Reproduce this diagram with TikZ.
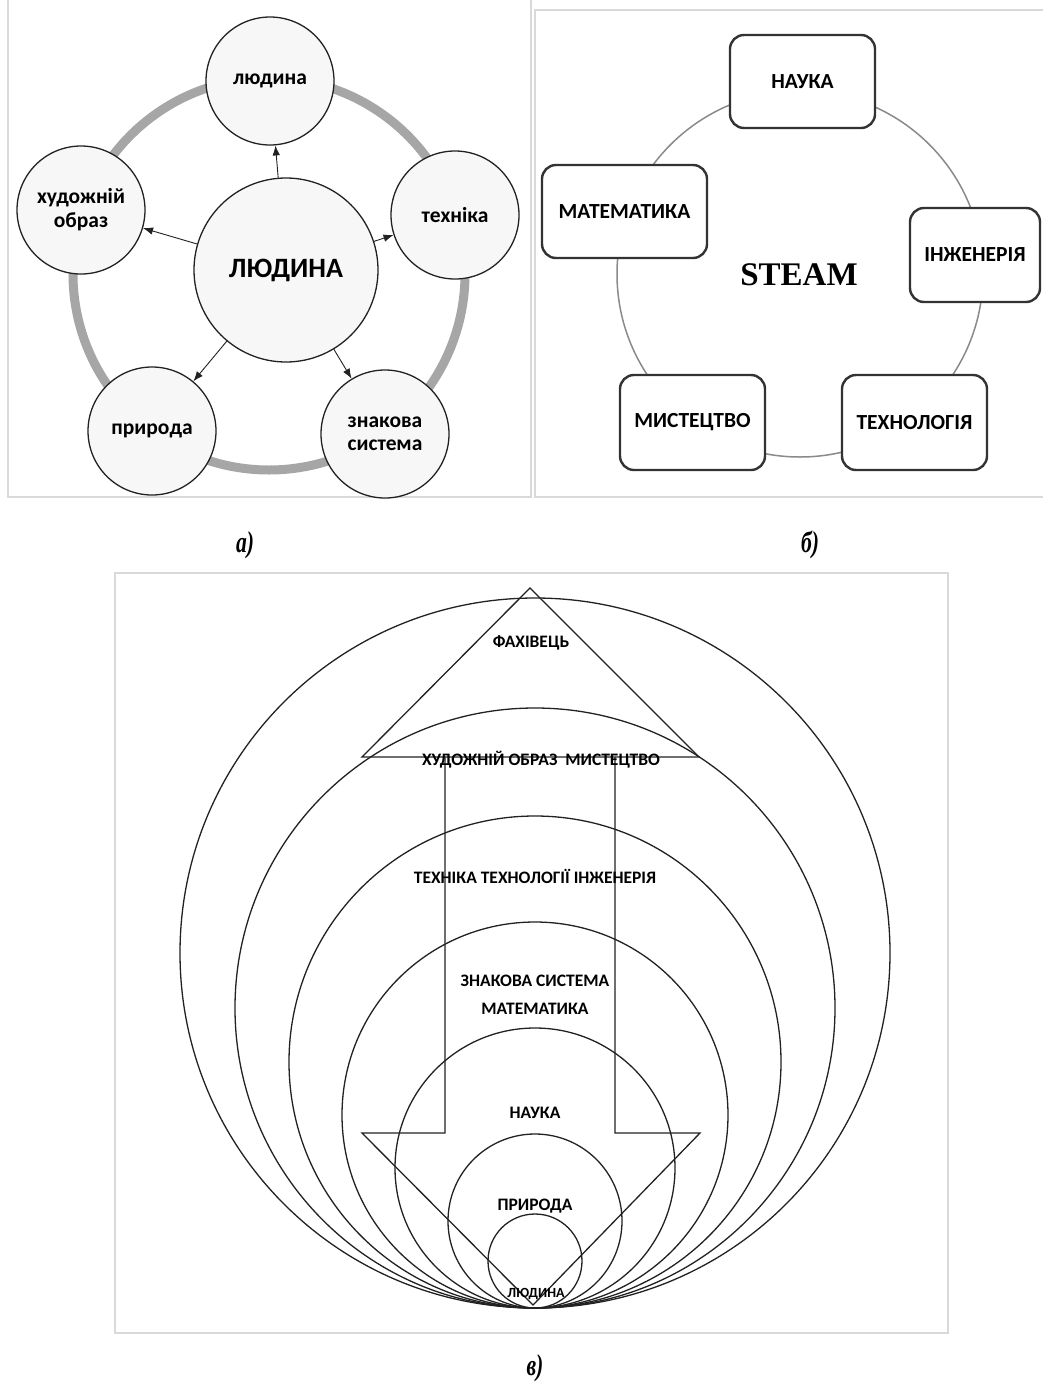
\documentclass[tikz,border=0pt]{standalone}
\usepackage{fontspec}
\setmainfont{Carlito}
\newfontfamily\serifb{Liberation Serif}
\usetikzlibrary{arrows.meta}
\definecolor{framec}{HTML}{D9D9D9}
\definecolor{ringc}{HTML}{A6A6A6}
\definecolor{fillc}{HTML}{F7F7F7}
\definecolor{linec}{HTML}{222222}
\definecolor{boxline}{HTML}{333333}
\definecolor{circb}{HTML}{8A8A8A}
\tikzset{
  frameline/.style={draw=framec, line width=1.2pt},
  smallc/.style={circle, draw=linec, fill=fillc, line width=1.3pt, minimum size=128pt, inner sep=0pt, align=center,
    font=\fontsize{21.5}{25}\selectfont\bfseries},
  bigc/.style={circle, draw=linec, fill=fillc, line width=1.3pt, minimum size=184pt, inner sep=0pt,
    font=\fontsize{28}{32}\selectfont\bfseries},
  arr/.style={-{Latex[length=10pt,width=7.5pt]}, line width=0.9pt, draw=linec},
  boxb/.style={rectangle, rounded corners=14pt, draw=boxline, fill=white, line width=2.4pt, inner sep=0pt,
    font=\fontsize{21.5}{24}\selectfont\bfseries},
  cline/.style={draw=linec, line width=1.3pt},
  ctext/.style={font=\fontsize{17.5}{20}\selectfont\bfseries, inner sep=0pt, align=center},
  caption/.style={font=\serifb\fontsize{30}{32}\selectfont\bfseries\itshape, inner sep=0pt}
}
\begin{document}
\begin{tikzpicture}[x=1pt,y=-1pt]
\useasboundingbox (0,0) rectangle (1043,1387);
\fill[white] (0,0) rectangle (1043,1387);

% ---------- panel a ----------
\draw[frameline] (8,0) -- (8,497) -- (531,497) -- (531,0);
\draw[ringc, line width=9pt] (269,274) circle[radius=196pt];
\node[bigc] (c) at (286,270) {ЛЮДИНА};
\node[smallc] (n1) at (270,81) {людина};
\node[smallc] (n2) at (455,215) {техніка};
\node[smallc] (n3) at (385,434) {знакова\\[-2pt]система};
\node[smallc] (n4) at (152,431) {природа};
\node[smallc] (n5) at (81,210) {художній\\[-1pt]образ};
\draw[arr] (c) -- (n1);
\draw[arr] (c) -- (n2);
\draw[arr] (c) -- (n3);
\draw[arr] (c) -- (n4);
\draw[arr] (c) -- (n5);

% ---------- panel b ----------
\draw[frameline] (1043,10) -- (535,10) -- (535,497) -- (1043,497);
\draw[circb, line width=1.5pt] (800,274) circle[radius=183pt];
\node[boxb, minimum width=145pt, minimum height=93pt] (b1) at (802.5,81.5) {НАУКА};
\node[boxb, minimum width=165pt, minimum height=93pt] (b2) at (624.5,211.5) {МАТЕМАТИКА};
\node[boxb, minimum width=130pt, minimum height=94pt] (b3) at (975,255) {ІНЖЕНЕРІЯ};
\node[boxb, minimum width=145pt, minimum height=95pt] (b4) at (914.5,422.5) {ТЕХНОЛОГІЯ};
\node[boxb, minimum width=145pt, minimum height=95pt] (b5) at (692.5,422.5) {МИСТЕЦТВО};
\node[font=\serifb\fontsize{33}{36}\selectfont\bfseries, inner sep=0pt] (steam) at (799,275) {STEAM};

% captions
\node[caption] (capa) at (245,545) {\scalebox{0.72}[1]{а)}};
\node[caption] (capb) at (810,545) {\scalebox{0.72}[1]{б)}};
\node[caption] (capc) at (535,1368) {\scalebox{0.72}[1]{в)}};

% ---------- panel c ----------
\draw[frameline] (115,573) rectangle (948,1333);
\foreach \r in {355,300,246,193,140,87,47} {
  \draw[cline] (535,{1308-\r}) circle[radius=\r pt];
}
\draw[cline] (530,588) -- (699,757) -- (362,757) -- cycle;
\draw[cline] (445,757) -- (445,1133) -- (362,1133) -- (533,1305) -- (700,1133) -- (615,1133) -- (615,757);

\node[ctext] (t1) at (531,643) {ФАХІВЕЦЬ};
\node[ctext] (t2) at (541,760) {ХУДОЖНІЙ ОБРАЗ\ \ МИСТЕЦТВО};
\node[ctext] (t3) at (535,876) {ТЕХНІКА ТЕХНОЛОГІЇ ІНЖЕНЕРІЯ};
\node[ctext] (t4) at (535,981) {ЗНАКОВА СИСТЕМА};
\node[ctext] (t5) at (535,1009) {МАТЕМАТИКА};
\node[ctext] (t6) at (535,1113) {НАУКА};
\node[ctext] (t7) at (535,1206) {ПРИРОДА};
\node[ctext, font=\fontsize{14}{16}\selectfont\bfseries] (t8) at (536,1294) {ЛЮДИНА};
\end{tikzpicture}
\end{document}
